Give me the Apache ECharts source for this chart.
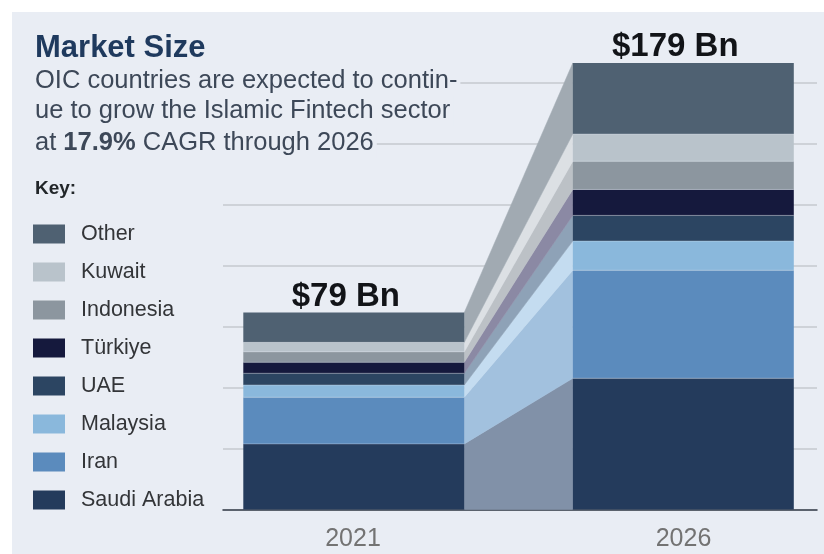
<!DOCTYPE html>
<html>
<head>
<meta charset="utf-8">
<script src="https://cdn.jsdelivr.net/npm/echarts@6/dist/echarts.min.js"></script>
<style>
  html, body { margin: 0; padding: 0; background: #ffffff; }
  #chart { width: 824px; height: 554px; }
</style>
</head>
<body>
<div id="chart"></div>
<script>
// ---- data ----
const categories = ['2021', '2026'];
const countries = ['Saudi Arabia', 'Iran', 'Malaysia', 'UAE', 'Türkiye', 'Indonesia', 'Kuwait', 'Other'];
const saudiArabia = [26.3, 52.6];
const iran = [18.7, 43.3];
const malaysia = [4.9, 11.7];
const uae = [4.7, 10.3];
const turkiye = [4.4, 10.4];
const indonesia = [4.2, 11.3];
const kuwait = [3.8, 10.9];
const other = [12.0, 28.5];
const totals = [79, 179];
const totalLabels = ['$79 Bn', '$179 Bn'];
const titleText = 'Market Size';
const subtitleLines = ['OIC countries are expected to contin-', 'ue to grow the Islamic Fintech sector'];
const cagrText = '17.9%';

// ---- styles ----
const FONT = '"Liberation Sans", Arial, Helvetica, sans-serif';
const PANEL = '#e9edf4';
const barColors = ['#243b5c', '#5b8bbd', '#8ab8dc', '#2c4562', '#15193d', '#8c969f', '#b9c3cb', '#4f6172'];
const linkColors = ['#8191a8', '#a2c1de', '#c4dcf0', '#8ea2b7', '#8b89a4', '#bcc1c6', '#dce0e4', '#a1aab2'];
const BAR_W = 221;
const barShift = [-17.7, 14.8];

const valueSets = [saudiArabia, iran, malaysia, uae, turkiye, indonesia, kuwait, other];
// stack bases
const bases = [];
let running = categories.map(() => 0);
valueSets.forEach((vals) => {
  bases.push(running.slice());
  running = running.map((r, i) => r + vals[i]);
});

const series = countries.map((name, s) => ({
  type: 'custom',
  name: name,
  coordinateSystem: 'cartesian2d',
  clip: false,
  itemStyle: { color: barColors[s] },
  encode: { x: 0, y: [1, 2] },
  data: categories.map((c, i) => [i, bases[s][i], bases[s][i] + valueSets[s][i]]),
  renderItem: function (params, api) {
    const i = api.value(0);
    const lo = api.value(1), hi = api.value(2);
    const cx = api.coord([i, 0])[0] + barShift[i];
    const yLo = api.coord([i, lo])[1];
    const yHi = api.coord([i, hi])[1];
    const children = [];
    if (i === 0) {
      const lo2 = bases[s][1], hi2 = bases[s][1] + valueSets[s][1];
      const cx2 = api.coord([1, 0])[0] + barShift[1];
      const x1 = cx + BAR_W / 2, x2 = cx2 - BAR_W / 2;
      children.push({
        type: 'polygon',
        shape: { points: [[x1, yHi], [x2, api.coord([1, hi2])[1]], [x2, api.coord([1, lo2])[1]], [x1, yLo]] },
        style: { fill: linkColors[s], stroke: linkColors[s], lineWidth: 0.5 }
      });
    }
    children.push({
      type: 'rect',
      shape: { x: cx - BAR_W / 2, y: yHi, width: BAR_W, height: yLo - yHi },
      style: { fill: barColors[s] }
    });
    if (s > 0) {
      children.push({
        type: 'line',
        shape: { x1: cx - BAR_W / 2, y1: yLo, x2: cx + BAR_W / 2, y2: yLo },
        style: { stroke: 'rgba(225,232,240,0.35)', lineWidth: 1 }
      });
    }
    if (s === countries.length - 1) {
      children.push({
        type: 'text',
        style: {
          x: cx - 8, y: yHi - 16,
          text: totalLabels[i],
          align: 'center', verticalAlign: 'middle',
          font: 'bold 33px ' + FONT,
          fill: '#121418'
        }
      });
    }
    return { type: 'group', children: children };
  }
}));

const chart = echarts.init(document.getElementById('chart'), null, { renderer: 'canvas' });
chart.setOption({
  backgroundColor: '#ffffff',
  animation: false,
  color: barColors,
  graphic: [
    { type: 'rect', z: -10, shape: { x: 12, y: 12, width: 812, height: 542 }, style: { fill: PANEL } },
    { type: 'text', z: 100, left: 35, top: 33, style: { text: titleText, font: 'bold 31px ' + FONT, fill: '#1f3a5e' } },
    { type: 'text', z: 100, left: 33, top: 66, style: { text: subtitleLines[0], font: '25.5px ' + FONT, fill: '#3d4858', backgroundColor: PANEL, padding: [2, 3, 2, 2] } },
    { type: 'text', z: 100, left: 33, top: 96, style: { text: subtitleLines[1], font: '25.5px ' + FONT, fill: '#3d4858', backgroundColor: PANEL, padding: [2, 3, 2, 2] } },
    { type: 'text', z: 100, left: 33, top: 128, style: {
        text: '{n|at }{b|' + cagrText + '}{n| CAGR through 2026}',
        backgroundColor: PANEL, padding: [2, 3, 2, 2],
        rich: {
          n: { font: '25.5px ' + FONT, fill: '#3d4858' },
          b: { font: 'bold 25.5px ' + FONT, fill: '#3d4858' }
        }
      } },
    { type: 'text', z: 100, left: 35, top: 179, style: { text: 'Key:', font: 'bold 19px ' + FONT, fill: '#222629' } }
  ],
  legend: {
    orient: 'vertical',
    left: 33,
    top: 223,
    padding: 0,
    icon: 'rect',
    itemWidth: 32,
    itemHeight: 19,
    itemGap: 16,
    data: countries.slice().reverse(),
    textStyle: { fontFamily: FONT, fontSize: 21.5, color: '#333538', padding: [0, 0, 0, 11] },
    selectedMode: false
  },
  grid: { left: 223, right: 7, top: 48, bottom: 44.5 },
  xAxis: {
    type: 'category',
    data: categories,
    axisTick: { show: false },
    axisLine: { lineStyle: { color: '#2d3540', width: 1.5 } },
    axisLabel: {
      margin: 17,
      formatter: function (v, i) { return i === 0 ? '{a|' + v + '}' : '{b|' + v + '}'; },
      rich: {
        a: { fontFamily: FONT, fontSize: 25, color: '#737373', padding: [0, 37, 0, 0] },
        b: { fontFamily: FONT, fontSize: 25, color: '#737373', padding: [0, 0, 0, 30] }
      }
    }
  },
  yAxis: {
    type: 'value',
    min: 0,
    max: 185,
    interval: 24.46,
    axisLabel: { show: false },
    axisTick: { show: false },
    axisLine: { show: false },
    splitLine: { show: true, showMinLine: false, showMaxLine: false, lineStyle: { color: '#c5c9cf', width: 1.5 } }
  },
  series: series
});
</script>
</body>
</html>
